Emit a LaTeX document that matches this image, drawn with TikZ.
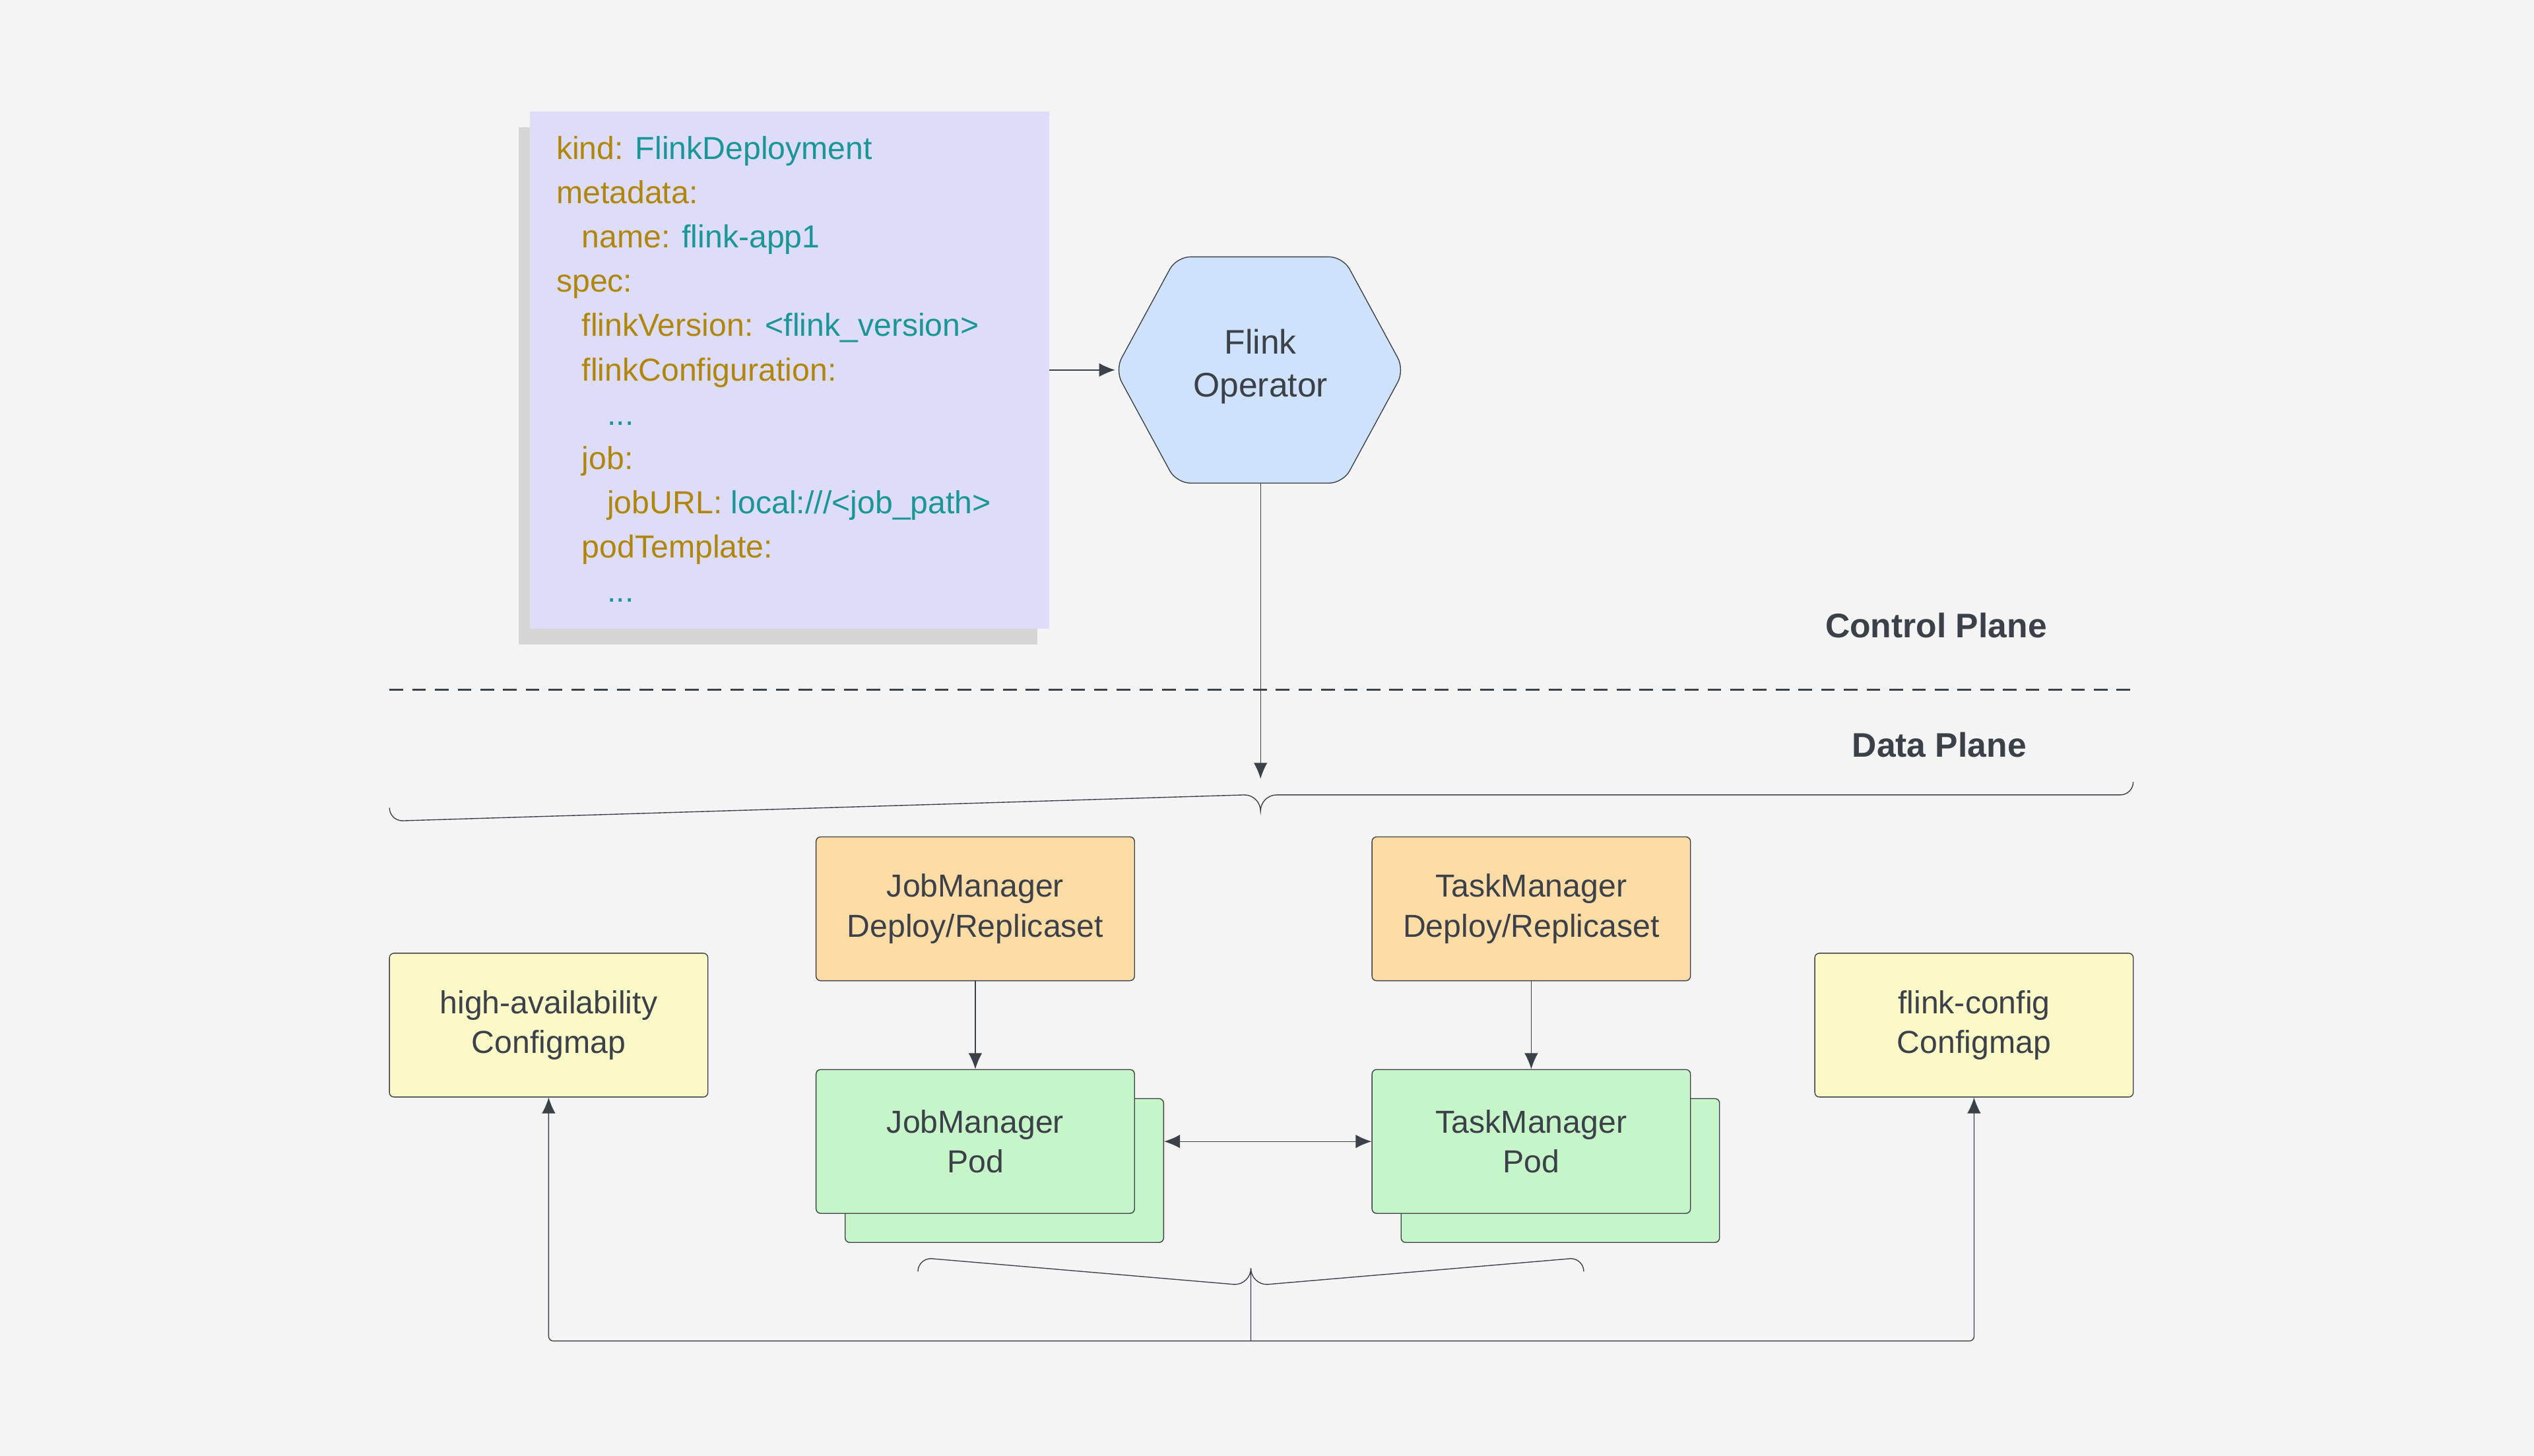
\documentclass[tikz,border=0pt]{standalone}
\usepackage{fontspec}
\setmainfont{Liberation Sans}
\usetikzlibrary{arrows.meta,positioning,shadows}
\definecolor{bgc}{RGB}{244,244,244}
\definecolor{linec}{RGB}{60,64,72}
\definecolor{yamlc}{RGB}{221,221,250}
\definecolor{keyc}{RGB}{176,134,8}
\definecolor{valc}{RGB}{26,150,150}
\definecolor{opc}{RGB}{207,226,251}
\definecolor{deployc}{RGB}{253,220,165}
\definecolor{podc}{RGB}{197,245,200}
\definecolor{cfgc}{RGB}{252,249,200}
\tikzset{
  box/.style={draw=linec, rounded corners=2pt, minimum width=4.925cm, minimum height=2.225cm,
    align=center, font=\fontsize{14}{17.5}\selectfont, text=linec},
  deploy/.style={box, fill=deployc},
  pod/.style={box, fill=podc},
  cfg/.style={box, fill=cfgc},
  conn/.style={draw=linec, -{Latex[length=7pt,width=6pt]}},
  plane/.style={font=\fontsize{15}{18}\selectfont\bfseries, text=linec},
  k/.style={}
}
\newcommand{\ky}[1]{{\color{keyc}#1}}
\newcommand{\vl}[1]{{\color{valc}#1}}
\begin{document}
\begin{tikzpicture}[x=0.025cm, y=-0.025cm]
  \fill[bgc] (0,0) rectangle (1568,901);
  \useasboundingbox (0,0) rectangle (1568,901);

  % Deployment spec
  \node[fill=yamlc, minimum width=8.025cm, minimum height=8cm, inner sep=0pt,
    drop shadow={shadow xshift=-5pt, shadow yshift=-7pt, opacity=.25}] (spec) at (488.5,229) {};
  \node[anchor=north west, align=left, inner sep=0pt, font=\fontsize{14}{19.5}\selectfont] (yaml) at (344,84)
    {\ky{kind:} \vl{FlinkDeployment}\\
     \ky{metadata:}\\
     \hspace*{0.8em}\ky{name:} \vl{flink-app1}\\
     \ky{spec:}\\
     \hspace*{0.8em}\ky{flinkVersion:} \vl{<flink\_version>}\\
     \hspace*{0.8em}\ky{flinkConfiguration:}\\
     \hspace*{1.6em}\vl{...}\\
     \hspace*{0.8em}\ky{job:}\\
     \hspace*{1.6em}\ky{jobURL:} \vl{local:///<job\_path>}\\
     \hspace*{0.8em}\ky{podTemplate:}\\
     \hspace*{1.6em}\vl{...}};

  % Operator
  \draw[linec, fill=opc, rounded corners=6pt] (690,229) -- (728,159) -- (831,159) -- (869,229)
    -- (831,299) -- (728,299) -- cycle;
  \coordinate (opw) at (690,229);
  \coordinate (ops) at (780,299);
  \node[align=center, font=\fontsize{15}{19}\selectfont, text=linec] (op) at (780,227) {Flink\\Operator};
  \draw[conn] (spec.east) -- (opw);

  % Planes
  \node[plane] (cp) at (1198,387) {Control Plane};
  \node[plane] (dp) at (1200,461) {Data Plane};
  \draw[linec, dashed, dash pattern=on 6pt off 4pt, thick] (241,427) -- (1318,427);

  % Top brace
  \coordinate (tb) at (780,482);
  \draw[conn] (ops) -- (tb);
  \draw[linec] (241,500) arc[start angle=180, end angle=90, radius=8] -- (770,492)
    arc[start angle=270, end angle=360, radius=10]
    arc[start angle=180, end angle=270, radius=10] -- (1312,492)
    arc[start angle=90, end angle=0, radius=8];

  % Managers
  \node[deploy] (jmd) at (603.5,562.5) {JobManager\\Deploy/Replicaset};
  \node[deploy] (tmd) at (947.5,562.5) {TaskManager\\Deploy/Replicaset};
  \node[pod] (jmp2) at (621.5,724.5) {};
  \node[pod] (jmp) at (603.5,706.5) {JobManager\\Pod};
  \node[pod] (tmp2) at (965.5,724.5) {};
  \node[pod] (tmp) at (947.5,706.5) {TaskManager\\Pod};
  \draw[conn] (jmd) -- (jmp);
  \draw[conn] (tmd) -- (tmp);
  \draw[conn, {Latex[length=7pt,width=6pt]}-{Latex[length=7pt,width=6pt]}] (jmp2.east |- jmp.east) -- (tmp.west);

  % Configmaps
  \node[cfg] (ha) at (339.5,634.5) {high-availability\\Configmap};
  \node[cfg] (fc) at (1221.5,634.5) {flink-config\\Configmap};

  % Bottom brace
  \coordinate (bb) at (774,830);
  \draw[linec] (568,787) arc[start angle=180, end angle=270, radius=8] -- (764,795)
    arc[start angle=90, end angle=0, radius=10] -- (bb);
  \draw[linec] (980,787) arc[start angle=0, end angle=-90, radius=8] -- (784,795)
    arc[start angle=90, end angle=180, radius=10];
  \draw[conn, rounded corners=2pt] (bb) -- (ha.south |- bb) -- (ha.south);
  \draw[conn, rounded corners=2pt] (bb) -- (fc.south |- bb) -- (fc.south);
\end{tikzpicture}
\end{document}
